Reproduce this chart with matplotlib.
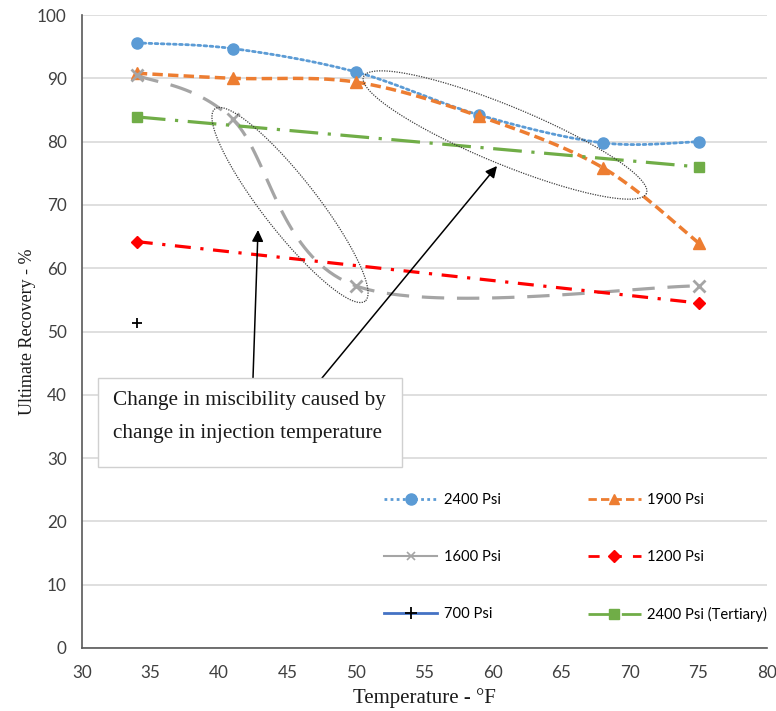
import numpy as np
import matplotlib
matplotlib.use("Agg")
import matplotlib.pyplot as plt
from matplotlib.lines import Line2D

# ---------------- data ----------------
temps_full = [34, 41, 50, 59, 68, 75]
psi2400 = [95.6, 94.7, 91.0, 84.2, 79.8, 80.0]
psi1900 = [90.8, 90.0, 89.4, 84.0, 75.9, 64.0]
temps_1600 = [34, 41, 50, 75]
psi1600 = [90.5, 83.5, 57.2, 57.2]
temps_ends = [34, 75]
psi1200 = [64.2, 54.5]
psi2400_tert = [83.9, 76.0]
temps_700 = [34]
psi700 = [51.3]

labels = ["2400 Psi", "1900 Psi", "1600 Psi", "1200 Psi", "700 Psi", "2400 Psi (Tertiary)"]
annot_text = "Change in miscibility caused by\nchange in injection temperature"

C_BLUE = "#5B9BD5"
C_ORANGE = "#ED7D31"
C_GRAY = "#A5A5A5"
C_RED = "#FF0000"
C_GREEN = "#70AD47"
C_DBLUE = "#4472C4"


def smooth(xs, ys, n=40):
    """Excel-like smoothed line: cubic Bezier with Catmull-Rom control points."""
    P = np.column_stack([xs, ys]).astype(float)
    m = len(P)
    out = []
    for i in range(m - 1):
        p0 = P[i - 1] if i > 0 else P[i]
        p1 = P[i]
        p2 = P[i + 1]
        p3 = P[i + 2] if i + 2 < m else P[i + 1]
        c1 = p1 + (p2 - p0) / 6.0
        c2 = p2 - (p3 - p1) / 6.0
        t = np.linspace(0, 1, n)[:, None]
        seg = ((1 - t) ** 3) * p1 + 3 * ((1 - t) ** 2) * t * c1 + 3 * (1 - t) * t ** 2 * c2 + t ** 3 * p2
        out.append(seg if i == 0 else seg[1:])
    seg = np.vstack(out)
    return seg[:, 0], seg[:, 1]


fig = plt.figure(figsize=(7.76, 7.11), dpi=100)
ax = fig.add_axes([82 / 776, 1 - 648 / 711, (767 - 82) / 776, (648 - 15) / 711])

ax.set_xlim(30, 80)
ax.set_ylim(0, 100)
ax.set_xticks(np.arange(30, 81, 5))
ax.set_yticks(np.arange(0, 101, 10))
ax.yaxis.grid(True, color="#D9D9D9", linewidth=1.2)
ax.set_axisbelow(True)
for s in ["top", "right"]:
    ax.spines[s].set_visible(False)
for s in ["left", "bottom"]:
    ax.spines[s].set_color("#595959")
    ax.spines[s].set_linewidth(1.2)
ax.tick_params(axis="both", length=0, labelsize=12.3, colors="#404040")
ax.tick_params(axis="x", pad=12)
ax.tick_params(axis="y", pad=11)
for lab in ax.get_xticklabels() + ax.get_yticklabels():
    lab.set_family("Lato")

lw = 2.0
# 2400 Psi
sx, sy = smooth(temps_full, psi2400)
ax.plot(sx, sy, color=C_BLUE, lw=lw, linestyle=(0, (1, 1.2)), dash_capstyle="round")
ax.plot(temps_full, psi2400, "o", color=C_BLUE, ms=8, linestyle="none")
# 1900 Psi
sx, sy = smooth(temps_full, psi1900)
ax.plot(sx, sy, color=C_ORANGE, lw=lw + 0.5, linestyle=(0, (3, 1.5)))
ax.plot(temps_full, psi1900, "^", color=C_ORANGE, ms=8, linestyle="none")
# 1600 Psi
sx, sy = smooth(temps_1600, psi1600)
ax.plot(sx, sy, color=C_GRAY, lw=lw + 0.3, linestyle=(0, (7, 4)))
ax.plot(temps_1600, psi1600, "x", color=C_GRAY, ms=8, mew=2, linestyle="none")
# 1200 Psi
ax.plot(temps_ends, psi1200, color=C_RED, lw=lw + 0.3, linestyle=(0, (5, 3, 1, 3)),
        marker="D", ms=6.5)
# 700 Psi
ax.plot(temps_700, psi700, color=C_DBLUE, marker="+", mec="black", ms=7, mew=1.3, linestyle="none")
# 2400 Psi tertiary
ax.plot(temps_ends, psi2400_tert, color=C_GREEN, lw=lw + 0.3, linestyle=(0, (9, 3, 1, 3)),
        marker="s", ms=7.5)

# ---------------- annotations (pixel geometry -> data) ----------------
sxp = (767 - 82) / 50.0   # px per x unit
syp = (648 - 15) / 100.0  # px per y unit


def px2data(px, py):
    return 30 + (px - 82) / sxp, (648 - py) / syp


def ellipse(cx, cy, a, b, ang_deg):
    t = np.linspace(0, 2 * np.pi, 200)
    ang = np.deg2rad(ang_deg)
    ex = a * np.cos(t)
    ey = b * np.sin(t)
    px = cx + ex * np.cos(ang) - ey * np.sin(ang)
    py = cy + ex * np.sin(ang) + ey * np.cos(ang)
    return px2data(px, py)


ex, ey = ellipse(290, 205, 122, 27, 52)
ax.plot(ex, ey, color="#404040", lw=0.9, linestyle=(0, (1, 1)))
ex, ey = ellipse(505, 135, 153, 29, 22.4)
ax.plot(ex, ey, color="#404040", lw=0.9, linestyle=(0, (1, 1)))

for (tx, ty), (hx, hy) in [((253, 378), (258, 230)), ((322, 378), (497, 166))]:
    ax.annotate("", xy=px2data(hx, hy), xytext=px2data(tx, ty),
                arrowprops=dict(arrowstyle="-|>", color="black", lw=1.1,
                                mutation_scale=17, shrinkA=0, shrinkB=0))

# text box
bx0, by0 = px2data(98, 467)
bx1, by1 = px2data(402, 378)
ax.add_patch(plt.Rectangle((bx0, by0), bx1 - bx0, by1 - by0, facecolor="white",
                           edgecolor="#D0D0D0", lw=1.0, zorder=4))
tx, ty = px2data(113, 417)
ax.text(tx, ty, annot_text, family="Liberation Serif", fontsize=15.3, va="center",
        ha="left", linespacing=2.05, zorder=5, color="#1a1a1a")

ax.set_xlabel("Temperature - °F", family="Liberation Serif", fontsize=15, color="#1a1a1a", labelpad=5)
ax.set_ylabel("Ultimate Recovery - %", family="Liberation Serif", fontsize=13, color="#1a1a1a", labelpad=1)

# ---------------- legend ----------------
h2400 = Line2D([], [], color=C_BLUE, lw=lw, linestyle=(0, (1, 1.2)), marker="o", ms=8)
h1900 = Line2D([], [], color=C_ORANGE, lw=lw, linestyle=(0, (3, 1.5)), marker="^", ms=7)
h1600 = Line2D([], [], color=C_GRAY, lw=1.5, linestyle="-", marker="x", ms=6, mew=1.2)
h1200 = Line2D([], [], color=C_RED, lw=lw, linestyle=(0, (4, 4)), marker="D", ms=6)
h700 = Line2D([], [], color=C_DBLUE, lw=lw, linestyle="-", marker="+", mec="black", ms=8, mew=1.3)
htert = Line2D([], [], color=C_GREEN, lw=lw, linestyle=(0, (8, 4)), marker="s", ms=7)

handles = [h2400, h1600, h700, h1900, h1200, htert]
labs = [labels[0], labels[2], labels[4], labels[1], labels[3], labels[5]]
leg = fig.legend(handles, labs, ncol=2, loc="upper left",
                 bbox_to_anchor=(377 / 776, 1 - 486 / 711),
                 frameon=False, prop={"family": "Lato", "size": 10.6},
                 handlelength=3.6, handletextpad=0.45, columnspacing=5.9,
                 labelspacing=2.9, borderpad=0)

fig.savefig("out.png", dpi=100)
